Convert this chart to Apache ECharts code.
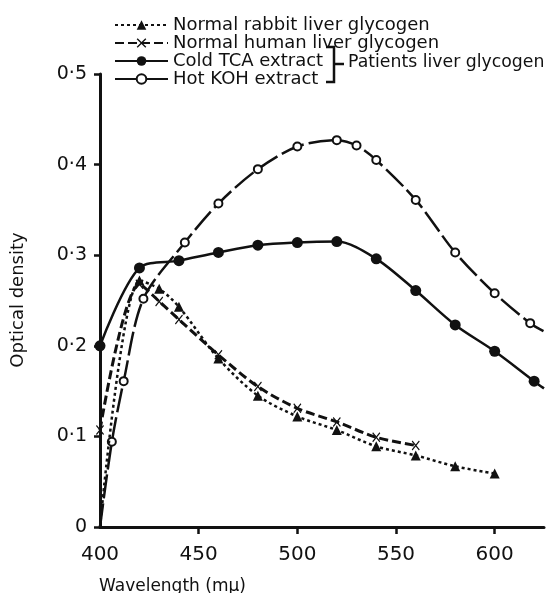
<!DOCTYPE html>
<html>
<head>
<meta charset="utf-8">
<script src="https://cdn.jsdelivr.net/npm/echarts@6/dist/echarts.min.js"></script>
<style>
  html, body { margin: 0; padding: 0; background: #fff; }
  #chart { width: 550px; height: 593px; }
</style>
</head>
<body>
<div id="chart"></div>
<script>
// values: [wavelength mμ, optical density]
const rabbitLiver = [[400, 0], [420, 0.272], [430, 0.263], [440, 0.243], [460, 0.186], [480, 0.145], [500, 0.122], [520, 0.107], [540, 0.089], [560, 0.079], [580, 0.067], [600, 0.059]]
const humanLiver = [[400, 0.107], [420, 0.268], [430, 0.249], [440, 0.229], [460, 0.19], [480, 0.155], [500, 0.131], [520, 0.116], [540, 0.099], [560, 0.09]]
const coldTCA = [[400, 0.2], [420, 0.286], [440, 0.294], [460, 0.303], [480, 0.311], [500, 0.314], [520, 0.315], [540, 0.296], [560, 0.261], [580, 0.223], [600, 0.194], [620, 0.161], [625, 0.153]]
const hotKOH = [[400, 0], [406, 0.094], [412, 0.161], [422, 0.252], [443, 0.314], [460, 0.357], [480, 0.395], [500, 0.42], [520, 0.427], [530, 0.421], [540, 0.405], [560, 0.361], [580, 0.303], [600, 0.258], [618, 0.225], [625, 0.216]]
// lines start at the origin and run on past the last marker to the axis end, unmarked there
const noMarkerAfter = 620

const xTicks = [400, 450, 500, 550, 600]
const seriesNames = ['Normal rabbit liver glycogen', 'Normal human liver glycogen', 'Cold TCA extract', 'Hot KOH extract']

const ink = '#111'
const font = 'DejaVu Sans'
const crossPath = 'path://M0,1L1,0L5,4L9,0L10,1L6,5L10,9L9,10L5,6L1,10L0,9L4,5Z'

function pts(arr) {
    return arr.map(p => (p[0] > noMarkerAfter || p[1] === 0) ? { value: p, symbol: 'none' } : p)
}

const chart = echarts.init(document.getElementById('chart'), null, { renderer: 'canvas' })

chart.setOption({
    animation: false,
    backgroundColor: '#fff',
    textStyle: { fontFamily: font, color: ink },
    grid: { left: 100, right: 6, top: 74, bottom: 66 },
    legend: {
        orient: 'vertical',
        left: 109,
        top: 11,
        itemWidth: 53,
        itemHeight: 12,
        itemGap: 0,
        selectedMode: false,
        data: seriesNames,
        textStyle: { fontFamily: font, fontSize: 18, lineHeight: 16.6, color: ink }
    },
    xAxis: {
        type: 'value',
        min: 400,
        max: 625,
        interval: 50,
        splitLine: { show: false },
        axisLine: { lineStyle: { color: ink, width: 3 } },
        axisTick: { length: 7, lineStyle: { color: ink, width: 2.5 }, customValues: xTicks.slice(1) },
        axisLabel: { customValues: xTicks, margin: 18, fontSize: 20, color: ink, fontFamily: font }
    },
    yAxis: {
        type: 'value',
        min: 0,
        max: 0.5,
        interval: 0.1,
        splitLine: { show: false },
        axisLine: { show: true, lineStyle: { color: ink, width: 3 } },
        axisTick: { show: true, length: 6, lineStyle: { color: ink, width: 2.5 } },
        axisLabel: {
            margin: 13, fontSize: 19, color: ink, fontFamily: font,
            formatter: v => v === 0 ? '0' : v.toFixed(1).replace('0.', '0·')
        }
    },
    series: [
        {
            name: seriesNames[0], type: 'line', smooth: 0.3, z: 4,
            data: pts(rabbitLiver),
            symbol: 'triangle', symbolSize: 10,
            itemStyle: { color: ink },
            lineStyle: { color: ink, width: 2.5, type: [3, 3] }
        },
        {
            name: seriesNames[1], type: 'line', smooth: 0.3, z: 3,
            data: pts(humanLiver),
            symbol: crossPath, symbolSize: [8, 10],
            itemStyle: { color: ink },
            lineStyle: { color: ink, width: 3, type: [9, 4] }
        },
        {
            name: seriesNames[2], type: 'line', smooth: 0.3, z: 3,
            data: pts(coldTCA),
            symbol: 'circle', symbolSize: 11,
            itemStyle: { color: ink },
            lineStyle: { color: ink, width: 2.5 }
        },
        {
            name: seriesNames[3], type: 'line', smooth: 0.3, z: 3,
            data: pts(hotKOH),
            symbol: 'circle', symbolSize: 8,
            itemStyle: { color: '#fff', borderColor: ink, borderWidth: 2 },
            lineStyle: { color: ink, width: 2.5, type: [24, 5] }
        }
    ],
    graphic: [
        {
            type: 'polyline',
            shape: { points: [[326, 47], [334, 47], [334, 82], [326, 82]] },
            style: { stroke: ink, lineWidth: 2.5, fill: null }
        },
        {
            type: 'line',
            shape: { x1: 334, y1: 64, x2: 344, y2: 64 },
            style: { stroke: ink, lineWidth: 2.5 }
        },
        {
            type: 'text', left: 348, top: 54,
            style: { text: 'Patients liver glycogen', font: `17.3px "${font}"`, fill: ink }
        },
        {
            type: 'text', x: 18, y: 300, rotation: Math.PI / 2,
            style: { text: 'Optical density', font: `18px "${font}"`, fill: ink, textAlign: 'center', textVerticalAlign: 'middle' }
        },
        {
            type: 'text', left: 99, top: 578,
            style: { text: 'Wavelength (mμ)', font: `17px "${font}"`, fill: ink }
        }
    ]
})
</script>
</body>
</html>
